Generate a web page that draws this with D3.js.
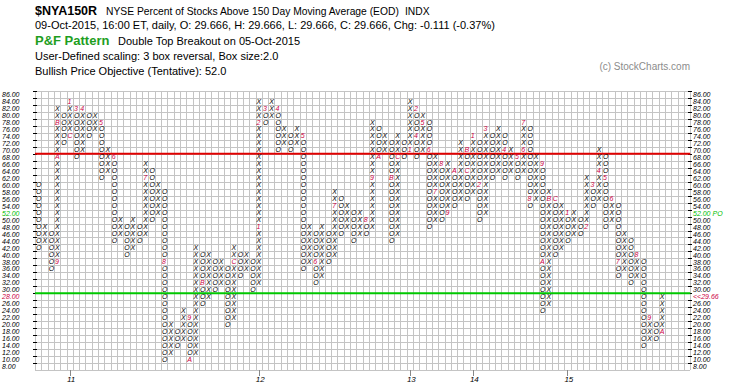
<!DOCTYPE html>
<html>
<head>
<meta charset="utf-8">
<script src="https://cdn.jsdelivr.net/npm/d3@7"></script>
<style>
  body { margin: 0; background: #fff; }
  svg { display: block; font-family: "Liberation Sans", Arial, sans-serif; }
</style>
</head>
<body>
<svg id="chart" width="745" height="391"></svg>
<script>
// P&F columns: box range of each column (X and O alternate, first is O)
const firstKind = "O";
const colLow  = [42,44,36,38,72,74,68,70,74,76,
                 62,64,44,46,40,42,44,46,50,52,
                 10,12,14,16,10,12,26,28,30,32,
                 20,22,34,36,30,32,78,80,70,72,
                 70,72,36,38,32,34,38,40,46,48,
                 44,46,46,48,68,70,44,46,68,70,
                 68,70,48,50,50,52,54,56,56,58,
                 50,52,62,64,62,64,62,64,54,56,
                 24,26,40,42,44,46,46,48,54,56,
                 48,50,34,36,32,34,14,16,16,18];
const colHigh = [60,48,46,82,80,84,82,82,80,80,
                 78,70,68,50,48,50,48,66,64,60,
                 58,20,18,24,22,42,40,40,38,38,
                 36,42,40,40,38,84,82,84,82,76,
                 74,76,74,48,46,48,46,58,56,54,
                 52,52,50,78,76,74,72,74,72,84,
                 82,80,78,68,66,66,64,72,70,74,
                 72,76,74,76,74,70,68,78,76,68,
                 66,58,56,54,52,52,50,62,60,70,
                 68,56,54,46,44,40,38,22,20,28];
const nCols = 104;

// month markers: column, box, label
const markCol  = [3,3,3,5,5,6,7,10,12,17,20,24,24,26,31,
                  35,35,36,38,42,44,47,52,53,54,56,57,
                  59,60,60,61,62,63,64,65,66,68,68,
                  69,70,71,74,76,77,77,78,80,80,81,82,
                  84,87,88,89,90,91,92,95,97,99];
const markVal  = [38,68,78,74,84,82,82,78,68,62,38,22,10,32,38,
                  48,78,82,82,74,38,54,50,62,68,62,68,
                  70,82,74,78,70,58,66,52,64,70,64,
                  74,60,76,70,68,70,78,56,66,38,56,56,
                  52,48,60,64,62,56,38,40,22,18];
const markText = ["9","A","B","C","1","3","4","5","6","7","8","9","A","B","C",
                  "1","2","3","4","5","6","7","8","9","A","B","C",
                  "1","2","4","5","6","7","8","9","A","B","C",
                  "1","2","3","4","5","6","7","8","9","A","B","C",
                  "1","2","3","4","5","6","7","8","9","A"];

const yearCol  = [5, 35, 59, 69, 84];
const yearText = ["11", "12", "13", "14", "15"];

const rowVals = d3.range(86, 7, -2);
const lastPrice = "29.66";
const objective = 52;
const redLevel = 70, greenLevel = 30;

const svg = d3.select("#chart");

// header
const head = svg.append("g").attr("fill", "#000");
head.append("text").attr("x", 35).attr("y", 15).attr("font-size", "12.5px").attr("font-weight", "bold").text("$NYA150R");
head.append("text").attr("x", 106).attr("y", 15).attr("font-size", "10.3px")
  .text("NYSE Percent of Stocks Above 150 Day Moving Average (EOD)");
head.append("text").attr("x", 405).attr("y", 15).attr("font-size", "10.3px").text("INDX");
head.append("text").attr("x", 35).attr("y", 29).attr("font-size", "11px")
  .text("09-Oct-2015, 16:00 ET, daily, O: 29.666, H: 29.666, L: 29.666, C: 29.666, Chg: -0.111 (-0.37%)");
head.append("text").attr("x", 35).attr("y", 45).attr("font-size", "13px").attr("font-weight", "bold")
  .attr("fill", "#1e9e1e").text("P&F Pattern");
head.append("text").attr("x", 118).attr("y", 45).attr("font-size", "11px").text("Double Top Breakout on 05-Oct-2015");
head.append("text").attr("x", 35).attr("y", 60).attr("font-size", "11px").text("User-Defined scaling: 3 box reversal, Box size:2.0");
head.append("text").attr("x", 35).attr("y", 75).attr("font-size", "11px").text("Bullish Price Objective (Tentative): 52.0");
head.append("text").attr("x", 690).attr("y", 70).attr("font-size", "10px").attr("text-anchor", "end")
  .attr("fill", "#8c8c8c").text("(c) StockCharts.com");

// scales
const x = d3.scaleLinear().domain([0, nCols]).range([35, 690.2]);
const y = d3.scaleLinear().domain([88, 8]).range([91, 370]);   // row v spans y(v+2)..y(v)

// grid
const grid = svg.append("g").attr("stroke", "#c4c4c4").attr("stroke-width", 1).attr("shape-rendering", "crispEdges");
grid.selectAll("line.v").data(d3.range(0, nCols + 1)).join("line").attr("class", "v")
  .attr("x1", d => Math.round(x(d)) + 0.5).attr("x2", d => Math.round(x(d)) + 0.5)
  .attr("y1", y(88)).attr("y2", y(8));
grid.selectAll("line.h").data(d3.range(88, 7, -2)).join("line").attr("class", "h")
  .attr("y1", d => Math.round(y(d)) + 0.5).attr("y2", d => Math.round(y(d)) + 0.5)
  .attr("x1", x(0)).attr("x2", x(nCols));

// axes (ticks sit on the top edge of each box row)
const tickY = d3.scaleLinear().domain([86, 8]).range([y(88), y(10)]);
const fmt = d3.format(".2f");

const left = svg.append("g").attr("transform", "translate(37,0)")
  .call(d3.axisLeft(tickY).tickValues(rowVals).tickSize(4).tickFormat(fmt));
left.select(".domain").remove();
left.selectAll("text").attr("x", -35).attr("dy", "0.8em").attr("text-anchor", "start")
  .attr("font-style", "italic").attr("font-size", "7px").attr("font-family", "Liberation Sans, Arial, sans-serif")
  .attr("fill", d => d === objective ? "#00c000" : d === 28 ? "#cc0044" : "#000");
left.selectAll("line").attr("shape-rendering", "crispEdges");

const right = svg.append("g").attr("transform", "translate(688,0)")
  .call(d3.axisRight(tickY).tickValues(rowVals).tickSize(4)
    .tickFormat(d => d === objective ? fmt(d) + " PO" : d === 28 ? "<<" + lastPrice : fmt(d)));
right.select(".domain").remove();
right.selectAll("text").attr("x", 5).attr("dy", "0.8em")
  .attr("font-style", "italic").attr("font-size", "7px").attr("font-family", "Liberation Sans, Arial, sans-serif")
  .attr("fill", d => d === objective ? "#00c000" : d === 28 ? "#cc0044" : "#000");
right.selectAll("line").attr("shape-rendering", "crispEdges");

// level lines
svg.append("line").attr("x1", x(0)).attr("x2", x(nCols)).attr("y1", y(redLevel)).attr("y2", y(redLevel))
  .attr("stroke", "#e00000").attr("stroke-width", 2);
svg.append("line").attr("x1", x(0)).attr("x2", x(nCols)).attr("y1", y(greenLevel)).attr("y2", y(greenLevel))
  .attr("stroke", "#00c800").attr("stroke-width", 2);

// boxes
const marks = new Map(markCol.map((c, i) => [c + ":" + markVal[i], markText[i]]));
const boxes = [];
colLow.forEach((lo, c) => {
  const kind = (c % 2 === 0) === (firstKind === "O") ? "O" : "X";
  for (let v = lo; v <= colHigh[c]; v += 2) {
    const m = marks.get(c + ":" + v);
    boxes.push({ c, v, t: m || kind, mark: !!m });
  }
});
svg.append("g").attr("font-size", "7px").attr("font-style", "italic")
  .selectAll("text").data(boxes).join("text")
  .attr("x", d => x(d.c) + 1.1)
  .attr("y", d => y(d.v + 2) + 5.6)
  .attr("fill", d => d.mark ? "#cc0044" : "#000")
  .text(d => d.t);

// year ticks
const yr = svg.append("g");
yr.selectAll("line").data(yearCol).join("line")
  .attr("x1", d => Math.round(x(d + 0.5)) + 0.5).attr("x2", d => Math.round(x(d + 0.5)) + 0.5)
  .attr("y1", y(8)).attr("y2", y(8) + 6).attr("stroke", "#888").attr("shape-rendering", "crispEdges");
yr.selectAll("text").data(yearCol).join("text")
  .attr("x", d => x(d + 0.5) + 1.5).attr("y", 382).attr("text-anchor", "middle")
  .attr("font-size", "8px").attr("font-style", "italic")
  .text((d, i) => yearText[i]);
</script>
</body>
</html>
